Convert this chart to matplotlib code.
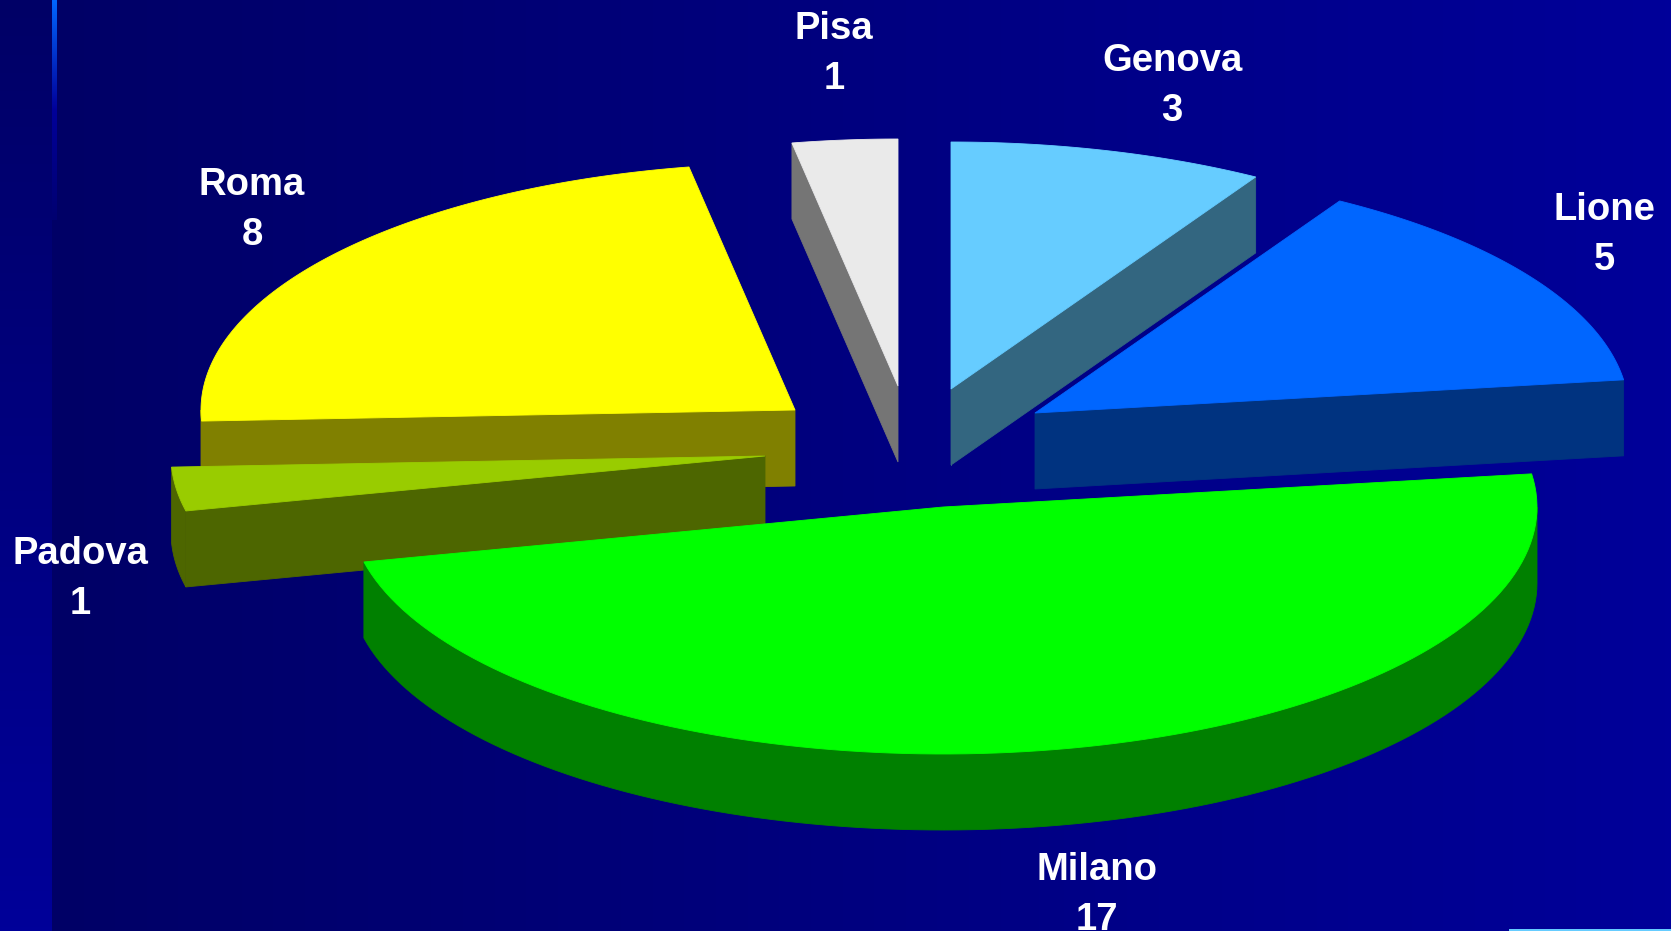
import numpy as np
import matplotlib
matplotlib.use("Agg")
import matplotlib.pyplot as plt
from matplotlib.colors import LinearSegmentedColormap

# clockwise from 12 o'clock
cities = ["Genova", "Lione", "Milano", "Padova", "Roma", "Pisa"]
counts = [3, 5, 17, 1, 8, 1]
top_colors = ["#66CCFF", "#0066FF", "#00FF00", "#99CC00", "#FFFF00", "#EAEAEA"]
side_colors = ["#336680", "#003380", "#008000", "#4D6600", "#808000", "#757575"]

# layout, in pixels of the picture
W, H = 1671, 931
RX, RY, DEPTH = 594, 247, 76
apex_x = [951, 1035, 943, 765, 795, 898]
apex_y = [389, 413, 507, 456, 410, 386]
label_x = [1172, 1604, 1097, 80, 252, 834]
label_y = [71, 220, 880, 564, 195, 39]
LINE_GAP = 50
draw_order = [5, 0, 1, 4, 3, 2]

plt.rcParams["font.family"] = ["Liberation Sans", "DejaVu Sans"]

fig = plt.figure(figsize=(W / 100, H / 100), dpi=100)
ax = fig.add_axes([0, 0, 1, 1])
ax.axis("off")

# background
main_bg = LinearSegmentedColormap.from_list("main_bg", ["#000066", "#000099"])
ax.imshow(np.linspace(0, 1, 256).reshape(1, -1), cmap=main_bg, aspect="auto",
          extent=[52, W, H, 0], vmin=0, vmax=1, zorder=0)
ax.imshow(np.linspace(0, 1, 256).reshape(-1, 1), cmap=main_bg, aspect="auto",
          extent=[0, 52, H, 0], vmin=0, vmax=1, zorder=0)
accent = LinearSegmentedColormap.from_list("accent", ["#0066FF", "#000099", "#000070"])
ax.imshow(np.linspace(0, 1, 256).reshape(-1, 1), cmap=accent, aspect="auto",
          extent=[52, 57, 220, 0], vmin=0, vmax=1, zorder=1)
ax.fill([1509, W, W, 1509], [929, 929, H, H], color="#66CCFF", lw=0, zorder=1)
ax.set_xlim(0, W)
ax.set_ylim(H, 0)


def rim_point(cx, cy, angle):
    a = np.radians(angle)
    return cx + RX * np.sin(a), cy - RY * np.cos(a)


def wall_visible(cx, cy, outer, mid):
    # the wall shows when the slice top lies above its line
    px, py = outer[0] - cx, outer[1] - cy
    qx, qy = mid[0] - cx, mid[1] - cy
    cross = px * qy - py * qx
    return cross < 0 if px > 0 else cross > 0


ends = np.cumsum(counts) / np.sum(counts) * 360
starts = np.concatenate([[0], ends[:-1]])

for z, i in enumerate(draw_order, start=2):
    cx, cy = apex_x[i], apex_y[i]
    a0, a1 = starts[i], ends[i]
    mid = rim_point(cx, cy, (a0 + a1) / 2)

    # straight walls
    for a in (a0, a1):
        ox, oy = rim_point(cx, cy, a)
        if wall_visible(cx, cy, (ox, oy), mid):
            ax.fill([cx, ox, ox, cx], [cy, oy, oy + DEPTH, cy + DEPTH],
                    fc=side_colors[i], ec=side_colors[i], lw=0.6, zorder=z)

    # outer rim, front half only
    r0, r1 = max(a0, 90), min(a1, 270)
    if r1 > r0:
        arc = np.linspace(r0, r1, 120)
        xs, ys = rim_point(cx, cy, arc)
        ax.fill(np.r_[xs, xs[::-1]], np.r_[ys, ys[::-1] + DEPTH],
                fc=side_colors[i], ec=side_colors[i], lw=0.6, zorder=z)

    # top face
    arc = np.linspace(a0, a1, 120)
    xs, ys = rim_point(cx, cy, arc)
    ax.fill(np.r_[cx, xs], np.r_[cy, ys], fc=top_colors[i], ec=top_colors[i],
            lw=0.6, zorder=z)

for name, n, x, y in zip(cities, counts, label_x, label_y):
    ax.text(x, y, name, color="white", fontsize=27.5, fontweight="bold",
            ha="center", va="baseline", zorder=20)
    ax.text(x, y + LINE_GAP, str(n), color="white", fontsize=27.5, fontweight="bold",
            ha="center", va="baseline", zorder=20)

fig.savefig("out.png", dpi=100)
